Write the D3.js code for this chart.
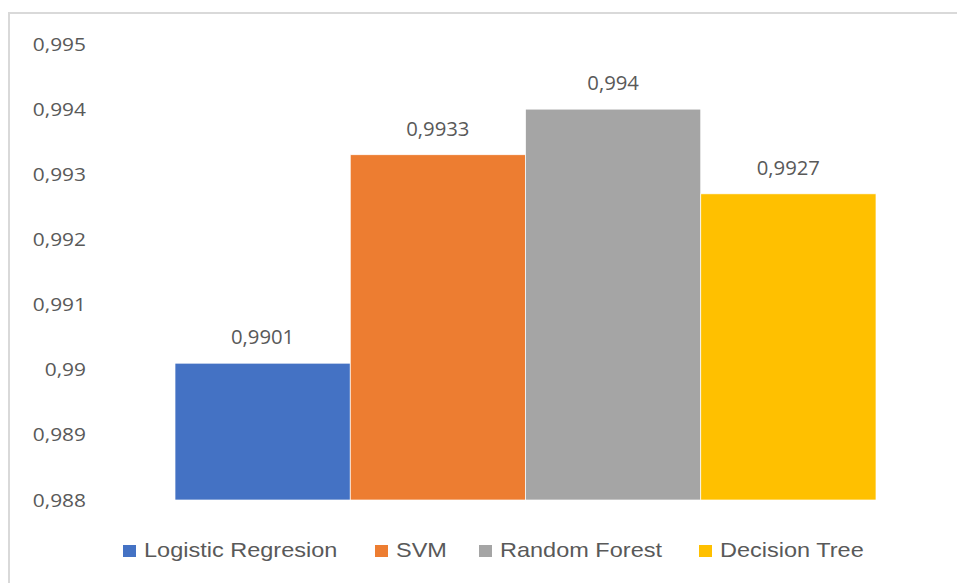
<!DOCTYPE html>
<html>
<head>
<meta charset="utf-8">
<script src="https://cdn.jsdelivr.net/npm/d3@7"></script>
<style>
  html, body { margin: 0; padding: 0; background: #fff; }
  svg { display: block; }
</style>
</head>
<body>
<svg id="chart" width="957" height="583"></svg>
<script>
// Model accuracy comparison
const models = ["Logistic Regresion", "SVM", "Random Forest", "Decision Tree"];
const accuracy = [0.9901, 0.9933, 0.994, 0.9927];
const colors = ["#4472C4", "#ED7D31", "#A5A5A5", "#FFC000"];
const yTicks = [0.988, 0.989, 0.99, 0.991, 0.992, 0.993, 0.994, 0.995];

const svg = d3.select("#chart");
const W = 957, H = 583;

// Chart frame
svg.append("rect")
  .attr("x", 9).attr("y", 13)
  .attr("width", W + 10).attr("height", H + 10)
  .attr("fill", "#fff")
  .attr("stroke", "#d9d9d9")
  .attr("stroke-width", 2);

const plot = { left: 175, right: 876, top: 44, bottom: 500 };

const x = d3.scaleBand()
  .domain(models)
  .range([plot.left, plot.right])
  .paddingInner(0)
  .paddingOuter(0);

const y = d3.scaleLinear()
  .domain([0.988, 0.995])
  .range([plot.bottom, plot.top]);

const fmt = v => String(+v.toFixed(4)).replace(".", ",");

// Y axis labels (no axis line, no gridlines)
const yAxis = d3.axisLeft(y)
  .tickValues(yTicks)
  .tickFormat(fmt)
  .tickSize(0)
  .tickPadding(0);

const gy = svg.append("g")
  .attr("transform", "translate(86,0)")
  .call(yAxis);
gy.select(".domain").remove();
gy.selectAll(".tick text")
  .attr("x", null)
  .attr("transform", "scale(1.1,1)")
  .attr("fill", "#595959")
  .attr("font-family", "'Open Sans', sans-serif")
  .attr("font-size", 19);

// Bars
svg.append("g").selectAll("rect")
  .data(models)
  .join("rect")
  .attr("x", d => x(d))
  .attr("width", x.bandwidth())
  .attr("y", (d, i) => y(accuracy[i]))
  .attr("height", (d, i) => y(0.988) - y(accuracy[i]))
  .attr("fill", (d, i) => colors[i])
  .attr("stroke", "#fff")
  .attr("stroke-width", 0.7);

// Value labels
svg.append("g").selectAll("text")
  .data(models)
  .join("text")
  .attr("transform", (d, i) =>
    `translate(${x(d) + x.bandwidth() / 2},${y(accuracy[i]) - 19}) scale(1.04,1)`)
  .attr("text-anchor", "middle")
  .attr("fill", "#595959")
  .attr("font-family", "'Open Sans', sans-serif")
  .attr("font-size", 19.5)
  .text((d, i) => fmt(accuracy[i]));

// Legend
const swatchX = [123, 375, 479, 699];
const lg = svg.append("g");
models.forEach((m, i) => {
  lg.append("rect")
    .attr("x", swatchX[i]).attr("y", 545)
    .attr("width", 13).attr("height", 12)
    .attr("fill", colors[i]);
  lg.append("text")
    .attr("transform", `translate(${swatchX[i] + 21},557) scale(1.12,1)`)
    .attr("fill", "#595959")
    .attr("font-family", "'Liberation Sans', Arial, sans-serif")
    .attr("font-size", 21)
    .text(m);
});
</script>
</body>
</html>
